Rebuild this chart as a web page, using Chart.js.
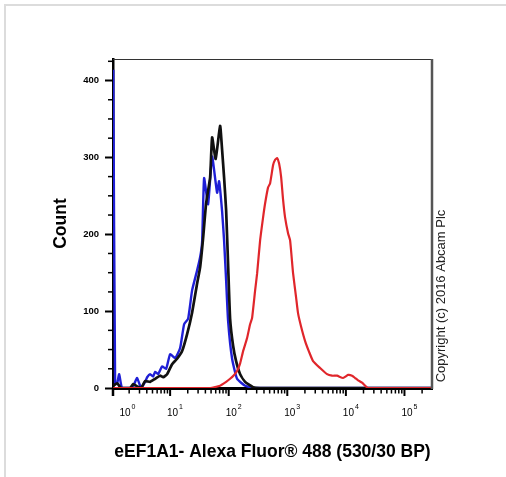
<!DOCTYPE html>
<html><head><meta charset="utf-8">
<script src="https://cdn.jsdelivr.net/npm/chart.js@4.4.1/dist/chart.umd.min.js"></script>
<style>html,body{margin:0;padding:0;background:#fff}canvas{display:block}</style>
</head><body>
<canvas id="c" width="506" height="477"></canvas>
<script>
// x values are log10 fluorescence (decades), y values are counts
const xTickExponents = [0, 1, 2, 3, 4, 5];
const yTickValues = [0, 100, 200, 300, 400];
const yMinorTickValues = [25, 50, 75, 125, 150, 175, 225, 250, 275, 325, 350, 375, 425];
const xTitle = 'eEF1A1- Alexa Fluor® 488 (530/30 BP)';
const yTitle = 'Count';
const copyrightText = 'Copyright (c) 2016 Abcam Plc';

const blueX = [0.03, 0.061, 0.096, 0.130, 0.181, 0.352, 0.403, 0.437, 0.505, 0.573, 0.608, 0.659, 0.710, 0.744, 0.795, 0.863, 0.932, 1.000, 1.085, 1.171, 1.239, 1.307, 1.375, 1.461, 1.512, 1.546, 1.580, 1.648, 1.717, 1.802, 1.836, 1.887, 1.921, 1.956, 1.990, 2.058, 2.143, 2.280, 2.451, 5.47];
const blueY = [414, 5, 6, 18, 0, 0, 8, 13, 0, 8, 14, 18, 15, 21, 18, 28, 25, 44, 39, 52, 83, 90, 127, 153, 170, 190, 273, 239, 301, 254, 269, 230, 192, 140, 87, 38, 12, 3, 0, 0];

const blackX = [0.03, 0.096, 0.164, 0.317, 0.369, 0.437, 0.505, 0.573, 0.659, 0.744, 0.829, 0.881, 0.949, 1.034, 1.119, 1.205, 1.290, 1.375, 1.461, 1.512, 1.563, 1.614, 1.683, 1.717, 1.777, 1.853, 1.887, 1.921, 1.956, 1.990, 2.024, 2.075, 2.126, 2.195, 2.280, 2.416, 2.536, 5.47];
const blackY = [3, 6, 0, 0, 5, 2, 0, 9, 8, 12, 16, 14, 18, 31, 38, 48, 70, 98, 136, 157, 195, 240, 274, 326, 298, 341, 310, 274, 231, 160, 90, 55, 35, 18, 8, 1, 0, 0];

const redX = [0.03, 1.683, 1.853, 1.956, 2.024, 2.092, 2.143, 2.195, 2.246, 2.314, 2.365, 2.399, 2.451, 2.485, 2.536, 2.587, 2.621, 2.672, 2.706, 2.758, 2.792, 2.826, 2.860, 2.894, 2.928, 2.962, 3.014, 3.048, 3.099, 3.150, 3.184, 3.235, 3.304, 3.372, 3.440, 3.560, 3.679, 3.765, 3.850, 3.952, 4.038, 4.106, 4.157, 4.208, 4.276, 4.379, 5.47];
const redY = [0, 0, 3, 8, 12, 17, 22, 32, 48, 65, 83, 91, 127, 149, 192, 222, 240, 261, 266, 290, 297, 299, 292, 275, 245, 222, 201, 192, 149, 118, 97, 80, 61, 47, 35, 26, 18, 16, 16, 13, 17, 16, 13, 10, 7, 0, 0];

const FONT = "'Liberation Sans', Arial, sans-serif";
const pts = (xs, ys) => xs.map((x, i) => ({x: x, y: ys[i]}));

const decor = {
  id: 'decor',
  beforeDraw(chart) {
    const ctx = chart.ctx;
    ctx.save();
    ctx.fillStyle = '#fff';
    ctx.fillRect(0, 0, chart.width, chart.height);
    ctx.strokeStyle = '#dcdcdc';
    ctx.lineWidth = 2;
    ctx.beginPath();
    ctx.moveTo(5, chart.height); ctx.lineTo(5, 5); ctx.lineTo(chart.width, 5);
    ctx.stroke();
    ctx.restore();
  },
  afterDraw(chart) {
    const {ctx, chartArea: a, scales: {x, y}} = chart;
    ctx.save();
    // frame top and right
    ctx.strokeStyle = '#333'; ctx.lineWidth = 1.2;
    ctx.beginPath(); ctx.moveTo(a.left, a.top + 0.5); ctx.lineTo(a.right, a.top + 0.5); ctx.stroke();
    ctx.strokeStyle = '#555'; ctx.lineWidth = 2.5;
    ctx.beginPath(); ctx.moveTo(a.right, a.top); ctx.lineTo(a.right, a.bottom + 1); ctx.stroke();
    // y minor ticks
    ctx.strokeStyle = '#000'; ctx.lineWidth = 1.5;
    yMinorTickValues.forEach(v => {
      const py = y.getPixelForValue(v);
      ctx.beginPath(); ctx.moveTo(a.left - 5, py); ctx.lineTo(a.left, py); ctx.stroke();
    });
    // spine extension below x axis
    ctx.lineWidth = 2.5;
    ctx.beginPath(); ctx.moveTo(a.left, a.bottom); ctx.lineTo(a.left, a.bottom + 8); ctx.stroke();
    // x ticks (log decades)
    xTickExponents.forEach(d => {
      if (d >= x.min && d <= x.max) {
        const px = x.getPixelForValue(d);
        ctx.lineWidth = 2;
        ctx.beginPath(); ctx.moveTo(px, a.bottom); ctx.lineTo(px, a.bottom + 8); ctx.stroke();
      }
      for (let m = 2; m <= 9; m++) {
        const v = d + Math.log10(m);
        if (v < x.min || v > x.max) continue;
        const px = x.getPixelForValue(v);
        ctx.lineWidth = 1.5;
        ctx.beginPath(); ctx.moveTo(px, a.bottom); ctx.lineTo(px, a.bottom + 5.5); ctx.stroke();
      }
    });
    // x tick labels 10^d
    ctx.fillStyle = '#000';
    xTickExponents.forEach(d => {
      const px = x.getPixelForValue(d);
      const cx = Math.max(px, a.left + 9.5) + 2.5;
      ctx.font = '10px ' + FONT;
      ctx.textAlign = 'center'; ctx.textBaseline = 'alphabetic';
      ctx.fillText('10', cx, a.bottom + 28);
      ctx.font = '7px ' + FONT;
      ctx.textAlign = 'left';
      ctx.fillText(String(d), cx + 6.5, a.bottom + 21);
    });
    // copyright
    ctx.save();
    ctx.translate(a.right + 9, 296);
    ctx.rotate(-Math.PI / 2);
    ctx.font = '13px ' + FONT;
    ctx.fillStyle = '#222';
    ctx.textAlign = 'center'; ctx.textBaseline = 'middle';
    ctx.fillText(copyrightText, 0, 0);
    ctx.restore();
    ctx.restore();
  }
};

new Chart(document.getElementById('c'), {
  type: 'scatter',
  data: {
    datasets: [
      {label: 'eEF1A1', data: pts(redX, redY), borderColor: '#e0262b', borderWidth: 2.2, showLine: true, pointRadius: 0, tension: 0.15},
      {label: 'Unlabelled control', data: pts(blackX, blackY), borderColor: '#111111', borderWidth: 2.7, showLine: true, pointRadius: 0, tension: 0.15},
      {label: 'Isotype control', data: pts(blueX, blueY), borderColor: '#1f1fd6', borderWidth: 2.4, showLine: true, pointRadius: 0, tension: 0.15}
    ]
  },
  options: {
    responsive: false,
    animation: false,
    devicePixelRatio: 1,
    layout: {padding: {left: 46.5, top: 59, right: 74, bottom: 10.5}},
    plugins: {legend: {display: false}, tooltip: {enabled: false}},
    scales: {
      x: {
        type: 'linear', min: 0.025, max: 5.47,
        grid: {display: false},
        ticks: {display: false},
        border: {display: true, color: '#000', width: 3},
        title: {display: true, text: xTitle, color: '#000', font: {family: FONT, size: 17.5, weight: 'bold'}, padding: {top: 4, bottom: 4}},
        afterFit: s => { s.height = 78.5; }
      },
      y: {
        type: 'linear', min: 0, max: 428,
        afterBuildTicks: s => { s.ticks = yTickValues.map(v => ({value: v})); },
        grid: {display: true, drawOnChartArea: false, drawTicks: true, tickLength: 8, tickWidth: 2, tickColor: '#000'},
        border: {display: true, color: '#000', width: 2.5},
        ticks: {color: '#000', padding: 6, font: {family: FONT, size: 9.5, weight: 'bold'}},
        title: {display: true, text: yTitle, color: '#000', font: {family: FONT, size: 17.5, weight: 'bold'}, padding: {top: 4, bottom: 4}},
        afterFit: s => { s.width = 66.5; }
      }
    }
  },
  plugins: [decor]
});
</script>
</body></html>
